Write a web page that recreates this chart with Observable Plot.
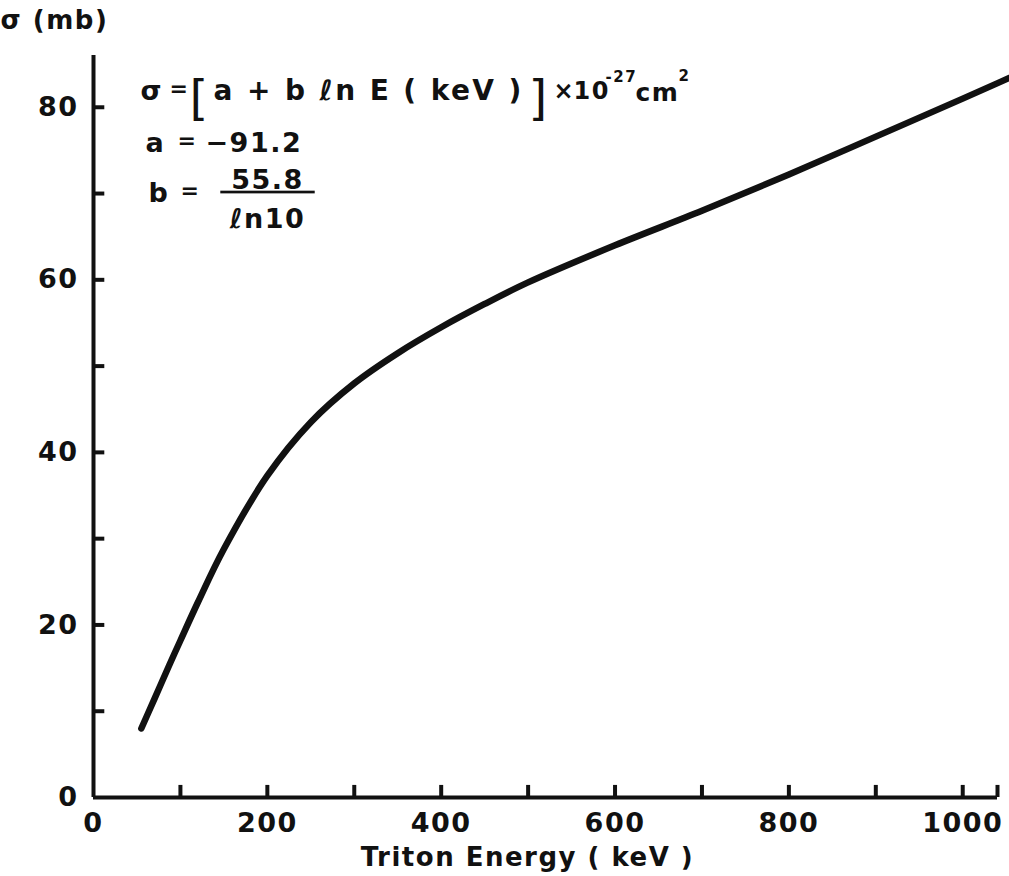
<!DOCTYPE html>
<html>
<head>
<meta charset="utf-8">
<script src="https://cdn.jsdelivr.net/npm/d3@7"></script>
<script src="https://cdn.jsdelivr.net/npm/@observablehq/plot@0.6"></script>
<style>
  html, body { margin: 0; padding: 0; background: #fff; }
  #chart svg { display: block; }
  #chart svg text { letter-spacing: 1.5px; }
</style>
</head>
<body>
<div id="chart"></div>
<script>
// Triton energy (keV) and cross-section sigma (mb)
const energy = [55, 70, 87, 100, 120, 150, 200, 250, 300, 350, 400, 450, 500, 600, 700, 800, 900, 1000, 1100];
const sigma  = [8, 11.4, 15.3, 18.2, 22.6, 28.8, 37.3, 43.5, 48, 51.5, 54.5, 57.2, 59.7, 64, 68, 72.2, 76.6, 81, 85.5];

const xTicksMinor = [100, 200, 300, 400, 500, 600, 700, 800, 900, 1000, 1040];
const xTickLabels = [0, 200, 400, 600, 800, 1000];
const yTicksMinor = [10, 20, 30, 40, 50, 60, 70, 80];
const yTickLabels = [0, 20, 40, 60, 80];

const xDomain = [0, 1040];
const yDomain = [0, 86];

const curve = energy.map((e, i) => ({E: e, s: sigma[i]}));

const font = "'DejaVu Sans', sans-serif";
const ink = "#111";

const anno = (txt, dx, dy, size = 27, opts = {}) =>
  Plot.text([txt], {frameAnchor: "top-left", dx, dy, textAnchor: "start", fontSize: size, fill: ink, ...opts});

const chart = Plot.plot({
  width: 1009,
  height: 876,
  marginLeft: 93,
  marginRight: 12,
  marginTop: 55,
  marginBottom: 79,
  style: {fontFamily: font, fontWeight: "bold", color: ink, background: "#fff"},
  x: {domain: xDomain},
  y: {domain: yDomain},
  marks: [
    // axis lines
    Plot.ruleY([0], {x1: 0, x2: xDomain[1], stroke: ink, strokeWidth: 4}),
    Plot.ruleX([0], {y1: 0, y2: yDomain[1], stroke: ink, strokeWidth: 4}),
    // inward ticks
    Plot.ruleX(xTicksMinor, {y1: 0, y2: 1.4, stroke: ink, strokeWidth: 4}),
    Plot.ruleY(yTicksMinor, {x1: 0, x2: 13, stroke: ink, strokeWidth: 4}),
    // tick labels
    Plot.axisX(xTickLabels, {tickSize: 0, tickPadding: 15, fontSize: 27, label: null, fill: ink, tickFormat: d => String(d)}),
    Plot.axisY(yTickLabels, {tickSize: 0, tickPadding: 15, fontSize: 27, label: null, fill: ink, tickFormat: d => String(d)}),
    // curve
    Plot.line(curve, {x: "E", y: "s", curve: "catmull-rom", stroke: ink, strokeWidth: 6.5, strokeLinecap: "round", clip: false}),
    // axis titles
    anno("σ (mb)", -93, -45, 26),
    Plot.text(["Triton Energy ( keV )"], {frameAnchor: "bottom", dy: 68, dx: -18, fontSize: 26, fill: ink}),
    // formula annotation
    anno("σ", 47, 25),
    anno("=", 76, 25, 22),
    anno("[", 96, 25, 48, {fontWeight: "normal"}),
    anno("a + b ℓn E ( keV )", 120, 25, 28),
    anno("]", 435, 25, 48, {fontWeight: "normal"}),
    anno("×", 460, 26, 24),
    anno("10", 480, 26, 24),
    anno("-27", 512, 16, 15),
    anno("cm", 542, 28, 25),
    anno("2", 585, 15, 15),
    anno("a", 52, 77),
    anno("=", 84, 77, 22),
    anno("−91.2", 112, 77),
    anno("b", 55, 127),
    anno("=", 87, 127, 22),
    Plot.text(["\u00a055.8\u00a0"], {frameAnchor: "top-left", dx: 174, dy: 114, textAnchor: "middle", fontSize: 27, fill: ink}),
    Plot.text(["ℓn10"], {frameAnchor: "top-left", dx: 174, dy: 153, textAnchor: "middle", fontSize: 27, fill: ink})
  ]
});

d3.select(chart).selectAll("text")
  .filter(function() { return this.textContent.includes("55.8"); })
  .style("white-space", "pre")
  .style("text-decoration", "underline")
  .style("text-decoration-thickness", "3px")
  .style("text-underline-offset", "6px");
d3.select(chart).selectAll("text")
  .filter(function() { return this.textContent.startsWith("a + b"); })
  .style("letter-spacing", "2.4px");

document.getElementById("chart").appendChild(chart);
</script>
</body>
</html>
